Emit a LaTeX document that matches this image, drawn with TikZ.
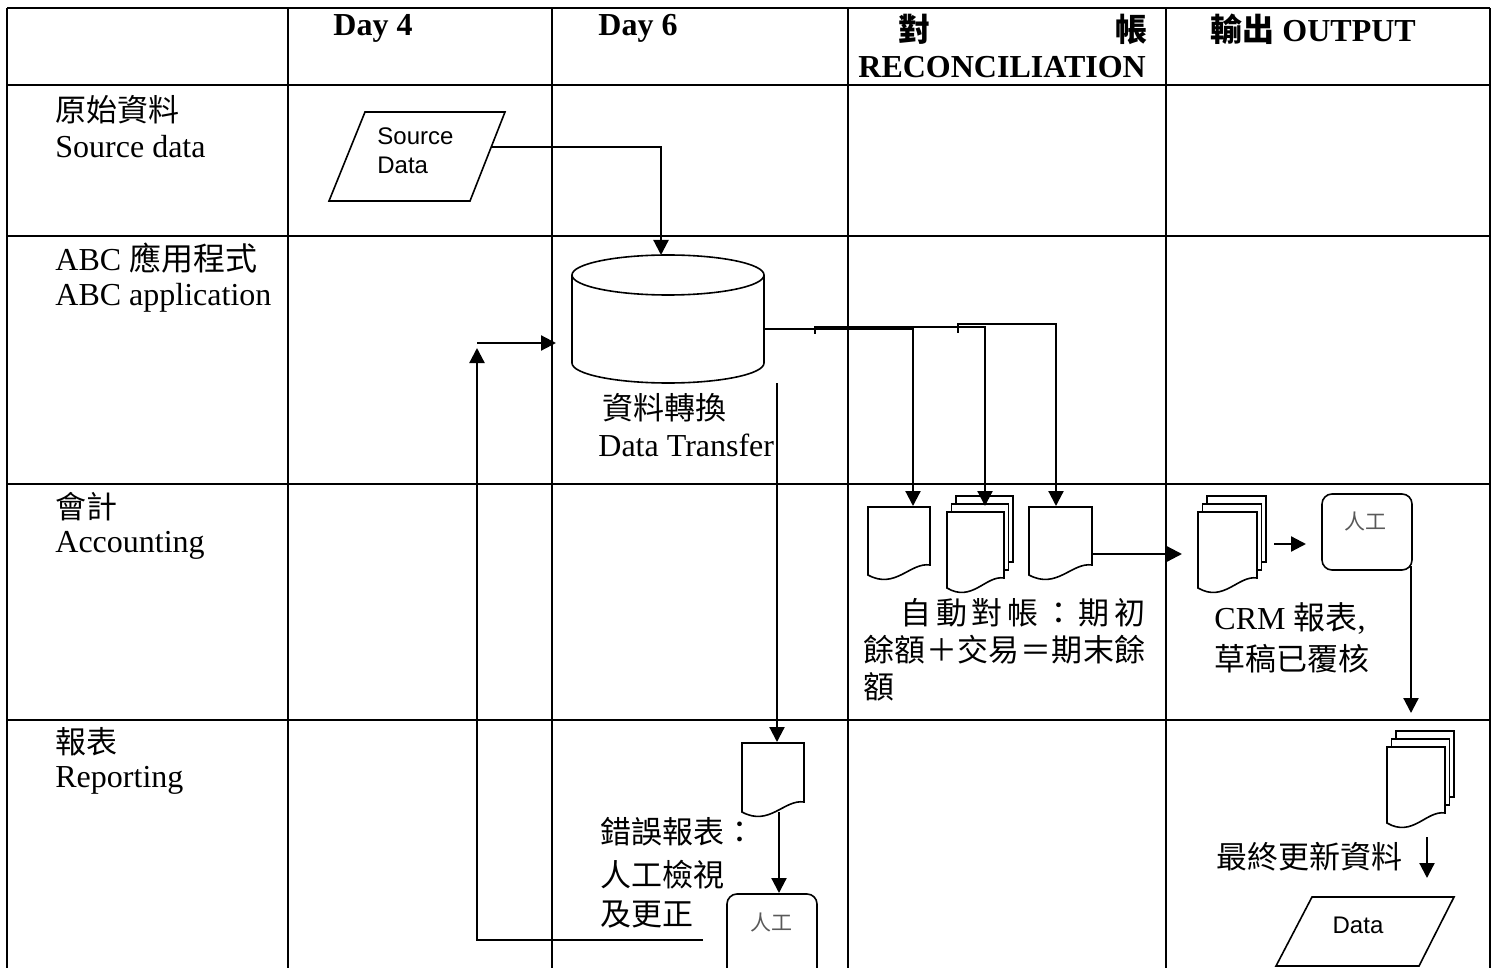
\documentclass[tikz,border=0pt]{standalone}
\usepackage{fontspec}
\setmainfont{Liberation Serif}
\newfontfamily\cjk{Noto Sans CJK TC}
\newfontfamily\arialf{Liberation Sans}
\usetikzlibrary{arrows.meta}
\tikzset{
 tbl/.style={line width=1.1pt},
 conn/.style={line width=1.1pt},
 arr/.style={conn,-{Triangle[length=7.5pt,width=7.5pt]}},
 shp/.style={line width=0.8pt, fill=white},
 lbl/.style={anchor=west, inner sep=0pt, font=\fontsize{16}{19}\selectfont},
 clbl/.style={anchor=west, inner sep=0pt, font=\fontsize{15.5}{19}\selectfont\cjk},
 hdr/.style={anchor=west, inner sep=0pt, font=\fontsize{16}{19}\selectfont\bfseries},
 chdr/.style={anchor=west, inner sep=0pt, font=\fontsize{16}{19}\selectfont\bfseries\cjk},
 arialtxt/.style={inner sep=0pt, font=\fontsize{12}{14.5}\selectfont\arialf},
 mantxt/.style={inner sep=0pt, font=\fontsize{10.5}{12}\selectfont\cjk, text=black!65},
 manbox/.style={draw, line width=0.8pt, rounded corners=5pt, minimum width=45pt, minimum height=38pt, inner sep=0pt, fill=white}
}
% document shape: name, x, y (top-left), width, left height
\newcommand\mydoc[5]{%
 \pgfmathsetmacro\dxa{#2}\pgfmathsetmacro\dxb{#2+#4}%
 \pgfmathsetmacro\dyt{#3}\pgfmathsetmacro\dyl{#3+#5}\pgfmathsetmacro\dyr{#3+#5-10}%
 \pgfmathsetmacro\dca{#2+0.44*#4}\pgfmathsetmacro\dcb{#2+0.68*#4}%
 \pgfmathsetmacro\dcya{#3+#5+15}\pgfmathsetmacro\dcyb{#3+#5-13}%
 \draw[shp] (\dxa,\dyt) -- (\dxb,\dyt) -- (\dxb,\dyr) .. controls (\dcb,\dcyb) and (\dca,\dcya) .. (\dxa,\dyl) -- cycle;
 \coordinate (#1) at ({#2+#4/2},#3);
}
\newcommand\mymulti[5]{%
 \pgfmathsetmacro\mxa{#2+9}\pgfmathsetmacro\mya{#3-16}\pgfmathsetmacro\mxb{#2+9+#4}\pgfmathsetmacro\myb{#3-16+#5-10}%
 \draw[shp] (\mxa,\mya) rectangle (\mxb,\myb);
 \pgfmathsetmacro\mxa{#2+4.5}\pgfmathsetmacro\mya{#3-8}\pgfmathsetmacro\mxb{#2+4.5+#4}\pgfmathsetmacro\myb{#3-8+#5-10}%
 \draw[shp] (\mxa,\mya) rectangle (\mxb,\myb);
 \mydoc{#1}{#2}{#3}{#4}{#5}%
}
\begin{document}
\begin{tikzpicture}[x=0.5pt,y=-0.5pt]
\useasboundingbox (0,0) rectangle (1494,968);
\clip (0,0) rectangle (1494,968);
\fill[white] (0,0) rectangle (1494,968);
% table grid
\draw[tbl] (7,8) -- (1490,8);
\foreach \yy in {85,236,484,720} \draw[tbl] (7,\yy) -- (1490,\yy);
\foreach \xx in {7,288,552,848,1166,1490} \draw[tbl] (\xx,8) -- (\xx,970);
% headers
\node[hdr] (h4) at (333,28) {Day 4};
\node[hdr] (h6) at (598,28) {Day 6};
\node[chdr] (hr1) at (898,29) {對};
\node[chdr, anchor=east] (hr2) at (1148,29) {帳};
\node[hdr] (hr3) at (858,67) {RECONCILIATION};
\node[hdr] (ho) at (1210,29) {{\cjk 輸出} OUTPUT};
% row labels
\node[clbl] (r1a) at (55,110) {原始資料};
\node[lbl] (r1b) at (55,147) {Source data};
\node[lbl] (r2a) at (55,258) {ABC {\cjk 應用程式}};
\node[lbl] (r2b) at (55,298) {ABC application};
\node[clbl] (r3a) at (55,507) {會計};
\node[lbl] (r3b) at (55,545) {Accounting};
\node[clbl] (r4a) at (55,742) {報表};
\node[lbl] (r4b) at (55,780) {Reporting};
% source data
\draw[shp] (365,112) -- (505,112) -- (470,201) -- (329,201) -- cycle;
\node[arialtxt, anchor=west] (srct1) at (377,136) {Source};
\node[arialtxt, anchor=west] (srct2) at (377,165) {Data};
\coordinate (srcR) at (491,147);
% cylinder
\draw[shp] (572,275) -- (572,363) arc[start angle=180,end angle=360,x radius=48pt,y radius=10pt] -- (764,275);
\draw[shp] (668,275) ellipse [x radius=48pt, y radius=10pt];
\coordinate (cylT) at (661,255);
\coordinate (cylR) at (764,329);
\coordinate (cylB) at (777,383);
\coordinate (cylL) at (556,343);
\node[clbl] (dt1) at (602,408) {資料轉換};
\node[lbl] (dt2) at (598,445) {Data Transfer};
\draw[arr] (srcR) -| (cylT);
% accounting documents
\mydoc{d1}{868}{507}{62}{68}
\mymulti{d2}{947}{512}{57}{76}
\mydoc{d3}{1029}{507}{63}{68}
\coordinate (d1T) at (913,506);
\coordinate (d2T) at (985,506);
\coordinate (d3T) at (1056,506);
\coordinate (b2s) at (815,334);
\coordinate (b2m) at (815,327);
\coordinate (b3s) at (958,333);
\coordinate (b3m) at (958,324);
\draw[arr] (cylR) -| (d1T);
\draw[arr] (b2s) -- (b2m) -| (d2T);
\draw[arr] (b3s) -- (b3m) -| (d3T);
\node[clbl] (acc1) at (900,613) {\makebox[122.5pt][s]{自\hfill 動\hfill 對\hfill 帳\hfill ：\hfill 期\hfill 初}};
\node[clbl] (acc2) at (863,650) {\makebox[141pt][s]{餘\hfill 額\hfill ＋\hfill 交\hfill 易\hfill ＝\hfill 期\hfill 末\hfill 餘}};
\node[clbl] (acc3) at (863,687) {額};
% output accounting
\mymulti{m2}{1198}{512}{59}{76}
\coordinate (d3R) at (1092,554);
\coordinate (m2L) at (1182,554);
\draw[arr] (d3R) -- (m2L);
\node[manbox] (man1) at (1367,532) {};
\node[mantxt] (man1t) at (1365,522) {人工};
\coordinate (m2R) at (1274,544);
\coordinate (man1L) at (1306,544);
\draw[arr] (m2R) -- (man1L);
\node[lbl] (crm1) at (1214,619) {CRM {\cjk 報表},};
\node[clbl] (crm2) at (1214,659) {草稿已覆核};
\coordinate (man1s) at (1411,566);
\coordinate (m3T) at (1411,713);
\draw[arr] (man1s) -- (m3T);
% output reporting
\mymulti{m3}{1387}{747}{58}{76}
\node[clbl] (fin) at (1216,857) {最終更新資料};
\coordinate (m3B) at (1427,837);
\coordinate (dataT) at (1427,878);
\draw[arr] (m3B) -- (dataT);
\draw[shp] (1312,897) -- (1454,897) -- (1419,966) -- (1276,966) -- cycle;
\node[arialtxt] (datat) at (1358,925) {Data};
% reporting day 6
\mydoc{r1}{742}{743}{62}{69}
\coordinate (r1T) at (777,742);
\draw[arr] (cylB) -- (r1T);
\node[manbox, minimum height=53pt] (man2) at (772,947) {};
\node[mantxt] (man2t) at (771,923) {人工};
\coordinate (r1B) at (779,812);
\coordinate (man2T) at (779,893);
\draw[arr] (r1B) -- (man2T);
\node[clbl] (err1) at (600,832) {錯誤報表：};
\node[clbl] (err2) at (600,875) {人工檢視};
\node[clbl] (err3) at (600,915) {及更正};
\coordinate (loopS) at (703,940);
\coordinate (loopT) at (477,348);
\draw[arr] (loopS) -| (loopT);
\coordinate (lp2) at (477,343);
\draw[arr] (lp2) -- (cylL);
\end{tikzpicture}
\end{document}
